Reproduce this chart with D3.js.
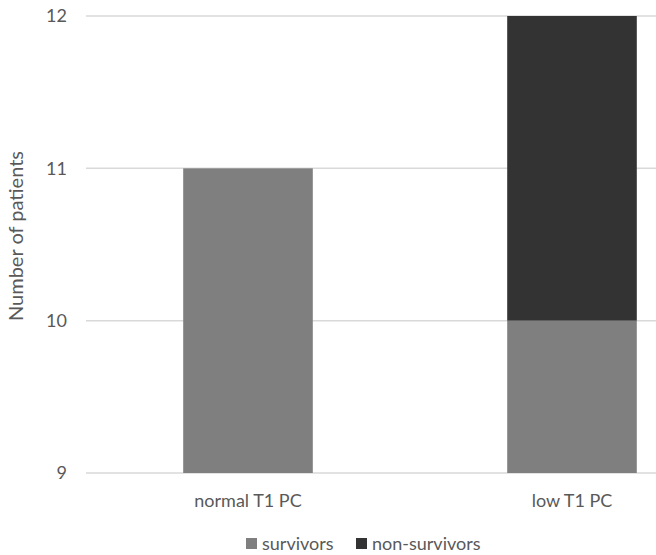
<!DOCTYPE html>
<html><head><meta charset="utf-8">
<script src="https://cdn.jsdelivr.net/npm/d3@7"></script>
<style>body{margin:0;background:#fff}svg{display:block;font-family:Lato,"Open Sans",sans-serif}</style>
</head><body>
<svg id="c" width="656" height="555"></svg>
<script>
const categories = ["normal T1 PC", "low T1 PC"];
const seriesNames = ["survivors", "non-survivors"];
const survivors = [11, 10];
const nonSurvivors = [0, 2];
const yTicks = [9, 10, 11, 12];
const colors = ["#7f7f7f", "#333333"];

const svg = d3.select("#c");
const x = d3.scaleBand().domain(categories).range([86, 734]).paddingInner(0.6).paddingOuter(0.3);
const y = d3.scaleLinear().domain([9, 12]).range([473, 16]);

// gridlines
svg.append("g").selectAll("line").data(yTicks).join("line")
  .attr("x1", 86).attr("x2", 656)
  .attr("y1", d => y(d)).attr("y2", d => y(d))
  .attr("stroke", "#d9d9d9").attr("stroke-width", 1.5);

// y axis labels
const yAxis = d3.axisLeft(y).tickValues(yTicks).tickSize(0).tickPadding(0).tickFormat(d3.format("d"));
const gy = svg.append("g").attr("transform", "translate(67,0)").call(yAxis);
gy.select(".domain").remove();
gy.selectAll("text").attr("font-size", 18).attr("fill", "#595959").attr("font-family", "Lato, sans-serif");

// stacked data
const rows = categories.map((c, i) => ({cat: c, survivors: survivors[i], "non-survivors": nonSurvivors[i]}));
const stack = d3.stack().keys(seriesNames)(rows);

stack.forEach((s, si) => {
  svg.append("g").selectAll("rect").data(s.filter(d => d[1] - d[0] > 0)).join("rect")
    .attr("x", d => x(d.data.cat))
    .attr("width", x.bandwidth())
    .attr("y", d => y(d[1]))
    .attr("height", d => y(Math.max(d[0], 9)) - y(d[1]))
    .attr("fill", colors[si]);
});

// x axis labels
const xAxis = d3.axisBottom(x).tickSize(0).tickPadding(0);
const gx = svg.append("g").attr("transform", "translate(0,494)").call(xAxis);
gx.select(".domain").remove();
gx.selectAll("text").attr("font-size", 18).attr("fill", "#595959").attr("font-family", "Lato, sans-serif");

// y title
svg.append("text").attr("transform", "translate(23,236) rotate(-90)")
  .attr("text-anchor", "middle").attr("font-size", 20).attr("fill", "#595959")
  .text("Number of patients");

// legend
const legend = svg.append("g");
const lx = [246, 356];
seriesNames.forEach((n, i) => {
  legend.append("rect").attr("x", lx[i]).attr("y", 538).attr("width", 11).attr("height", 11).attr("fill", colors[i]);
  legend.append("text").attr("x", lx[i] + 16).attr("y", 550).attr("font-size", 18).attr("fill", "#595959").text(n);
});
</script>
</body></html>
